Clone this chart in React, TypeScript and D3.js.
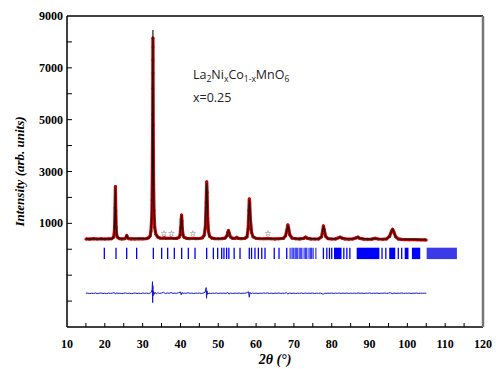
import React from 'react';
import * as d3 from 'd3';

const observed: [number, number][] = [
  [15.0, 400], [16.0, 392], [17.0, 408], [18.0, 396], [19.0, 404], [20.0, 395], [21.0, 402],
  [21.8, 405], [22.3, 460], [22.5, 620], [22.6, 900], [22.7, 1600], [22.8, 2420], [22.9, 1500],
  [23.0, 850], [23.1, 600], [23.3, 470], [23.8, 410], [24.5, 398], [25.3, 405], [25.6, 450],
  [25.8, 530], [26.0, 450], [26.3, 405], [27.0, 400], [28.0, 396], [29.0, 406], [30.0, 402],
  [31.0, 410], [31.6, 440], [32.0, 520], [32.2, 700], [32.4, 1200], [32.5, 1900], [32.6, 3600],
  [32.63, 4300], [32.66, 5200], [32.68, 6200], [32.7, 7300], [32.72, 8150], [32.74, 7800],
  [32.76, 6800], [32.8, 4800], [32.85, 3400], [32.9, 2500], [33.0, 1500], [33.2, 840],
  [33.5, 580], [34.0, 470], [34.6, 430], [35.2, 425], [35.7, 440], [36.2, 420], [37.0, 425],
  [37.5, 435], [38.2, 415], [39.0, 420], [39.6, 450], [39.9, 560], [40.1, 850], [40.2, 1150],
  [40.3, 1320], [40.4, 1100], [40.5, 780], [40.7, 530], [41.0, 450], [41.7, 420], [42.5, 410],
  [43.3, 425], [44.0, 410], [45.0, 415], [45.8, 440], [46.3, 550], [46.6, 900], [46.8, 1800],
  [46.95, 2600], [47.05, 2200], [47.2, 1200], [47.4, 700], [47.7, 500], [48.3, 430], [49.0, 410],
  [50.0, 405], [51.0, 410], [51.8, 430], [52.3, 520], [52.5, 650], [52.7, 720], [52.9, 620],
  [53.2, 480], [53.8, 420], [54.5, 420], [54.9, 460], [55.3, 415], [56.0, 410], [57.0, 420],
  [57.6, 480], [57.9, 800], [58.1, 1500], [58.2, 1940], [58.3, 1800], [58.5, 1150], [58.8, 650],
  [59.2, 480], [60.0, 420], [61.0, 410], [62.0, 405], [63.1, 420], [64.0, 405], [65.0, 400],
  [66.0, 405], [67.2, 420], [67.8, 520], [68.2, 780], [68.4, 940], [68.6, 820], [68.9, 560],
  [69.5, 430], [70.5, 405], [71.5, 400], [72.6, 420], [73.1, 470], [73.6, 420], [74.5, 400],
  [75.5, 395], [76.5, 400], [77.3, 480], [77.6, 700], [77.8, 900], [78.0, 760], [78.4, 500],
  [79.0, 410], [80.0, 395], [81.0, 400], [81.8, 440], [82.2, 470], [82.7, 430], [83.5, 395],
  [84.5, 390], [85.5, 395], [86.5, 440], [86.9, 470], [87.4, 420], [88.5, 390], [89.5, 385],
  [90.5, 390], [91.5, 420], [92.3, 395], [93.5, 385], [94.5, 400], [95.3, 500], [95.8, 700],
  [96.1, 770], [96.4, 680], [96.9, 480], [97.6, 400], [98.5, 380], [99.5, 375], [100.5, 370],
  [101.5, 372], [102.5, 368], [103.5, 365], [104.5, 362], [105.0, 360],
];

// calculated profile
const calculated: [number, number][] = [
  [15.0, 400], [21.8, 402], [22.3, 455], [22.5, 610], [22.6, 880], [22.7, 1580], [22.8, 2380],
  [22.9, 1480], [23.0, 840], [23.1, 600], [23.3, 465], [24.5, 400], [25.5, 430], [25.8, 520],
  [26.1, 430], [31.0, 410], [31.6, 440], [32.0, 520], [32.2, 700], [32.4, 1220], [32.5, 1950],
  [32.6, 3700], [32.66, 5800], [32.72, 8460], [32.78, 6000], [32.85, 3300], [33.0, 1480],
  [33.2, 830], [33.5, 575], [34.0, 465], [35.0, 425], [39.0, 420], [39.6, 448], [39.9, 555],
  [40.1, 840], [40.2, 1140], [40.3, 1300], [40.4, 1090], [40.5, 770], [40.7, 525], [41.0, 450],
  [42.0, 415], [45.0, 415], [45.8, 440], [46.3, 545], [46.6, 920], [46.8, 1850], [46.95, 2560],
  [47.05, 2150], [47.2, 1180], [47.4, 690], [47.7, 495], [48.3, 430], [50.0, 408], [51.8, 430],
  [52.3, 515], [52.5, 640], [52.7, 710], [52.9, 615], [53.2, 478], [53.8, 422], [54.9, 455],
  [55.4, 415], [57.0, 420], [57.6, 478], [57.9, 790], [58.1, 1480], [58.2, 1900], [58.3, 1780],
  [58.5, 1140], [58.8, 645], [59.2, 478], [60.0, 420], [66.0, 405], [67.2, 420], [67.8, 515],
  [68.2, 770], [68.4, 930], [68.6, 815], [68.9, 555], [69.5, 430], [71.5, 402], [72.6, 418],
  [73.1, 465], [73.6, 418], [76.5, 400], [77.3, 478], [77.6, 690], [77.8, 890], [78.0, 755],
  [78.4, 498], [79.0, 410], [81.0, 400], [81.8, 438], [82.2, 465], [82.7, 428], [85.5, 395],
  [86.5, 438], [86.9, 465], [87.4, 418], [90.5, 390], [91.5, 418], [92.3, 395], [94.5, 398],
  [95.3, 495], [95.8, 690], [96.1, 765], [96.4, 675], [96.9, 478], [97.6, 398], [105.0, 360],
];

// difference curve (obs - calc, offset)
const difference: [number, number][] = [
  [15.0, -1700], [15.5, -1690], [16.0, -1712], [16.5, -1695], [17.0, -1705], [17.5, -1688],
  [18.0, -1710], [18.5, -1698], [19.0, -1685], [19.5, -1708], [20.0, -1696], [20.5, -1712],
  [21.0, -1690], [21.5, -1703], [22.0, -1695], [22.5, -1670], [22.8, -1735], [23.1, -1680],
  [23.5, -1705], [24.0, -1692], [24.5, -1710], [25.0, -1698], [25.5, -1686], [26.0, -1707],
  [26.5, -1694], [27.0, -1712], [27.5, -1699], [28.0, -1688], [28.5, -1706], [29.0, -1695],
  [29.5, -1710], [30.0, -1692], [30.5, -1703], [31.0, -1690], [31.5, -1708], [32.0, -1690],
  [32.3, -1660], [32.5, -1560], [32.6, -1250], [32.65, -2060], [32.7, -1400], [32.75, -1800],
  [32.85, -1620], [33.0, -1740], [33.3, -1660], [33.6, -1720], [34.0, -1680], [34.5, -1705],
  [35.0, -1690], [35.5, -1660], [36.0, -1712], [36.5, -1685], [37.0, -1700], [37.5, -1670],
  [38.0, -1705], [38.5, -1690], [39.0, -1700], [39.5, -1680], [40.0, -1650], [40.2, -1760],
  [40.4, -1670], [40.7, -1710], [41.0, -1690], [41.5, -1702], [42.0, -1680], [42.5, -1700],
  [43.0, -1690], [43.5, -1708], [44.0, -1692], [44.5, -1700], [45.0, -1688], [45.5, -1706],
  [46.0, -1690], [46.5, -1660], [46.8, -1480], [46.9, -1890], [47.0, -1600], [47.2, -1740],
  [47.5, -1690], [48.0, -1710], [48.5, -1694], [49.0, -1702], [49.5, -1688], [50.0, -1706],
  [50.5, -1692], [51.0, -1700], [51.5, -1690], [52.0, -1706], [52.5, -1670], [52.8, -1730],
  [53.2, -1690], [53.8, -1705], [54.5, -1692], [55.0, -1702], [55.5, -1690], [56.0, -1706],
  [56.5, -1694], [57.0, -1700], [57.5, -1680], [58.0, -1640], [58.2, -1850], [58.4, -1660],
  [58.7, -1720], [59.0, -1690], [59.5, -1704], [60.0, -1692], [60.5, -1708], [61.0, -1694],
  [61.5, -1702], [62.0, -1688], [62.5, -1700], [63.0, -1684], [63.5, -1706], [64.0, -1694],
  [64.5, -1708], [65.0, -1692], [65.5, -1700], [66.0, -1688], [66.5, -1706], [67.0, -1694],
  [67.5, -1700], [68.0, -1675], [68.4, -1725], [68.8, -1690], [69.5, -1704], [70.0, -1692],
  [70.5, -1706], [71.0, -1694], [71.5, -1702], [72.0, -1690], [72.5, -1708], [73.0, -1688],
  [73.5, -1704], [74.0, -1694], [74.5, -1700], [75.0, -1690], [75.5, -1706], [76.0, -1694],
  [76.5, -1702], [77.0, -1690], [77.5, -1720], [77.8, -1740], [78.1, -1690], [78.5, -1705],
  [79.0, -1692], [79.5, -1700], [80.0, -1690], [80.5, -1704], [81.0, -1694], [81.5, -1702],
  [82.0, -1688], [82.5, -1706], [83.0, -1694], [83.5, -1700], [84.0, -1690], [84.5, -1706],
  [85.0, -1694], [85.5, -1702], [86.0, -1690], [86.5, -1704], [87.0, -1688], [87.5, -1700],
  [88.0, -1692], [88.5, -1706], [89.0, -1694], [89.5, -1700], [90.0, -1688], [90.5, -1704],
  [91.0, -1694], [91.5, -1700], [92.0, -1690], [92.5, -1706], [93.0, -1694], [93.5, -1700],
  [94.0, -1688], [94.5, -1704], [95.0, -1692], [95.5, -1680], [96.0, -1712], [96.5, -1690],
  [97.0, -1704], [97.5, -1694], [98.0, -1700], [98.5, -1688], [99.0, -1704], [99.5, -1694],
  [100.0, -1700], [100.5, -1690], [101.0, -1706], [101.5, -1694], [102.0, -1700], [102.5, -1690],
  [103.0, -1704], [103.5, -1694], [104.0, -1700], [104.5, -1692], [105.0, -1698],
];

// Bragg reflection positions
const braggTicks = [
  19.87, 22.96, 25.78, 28.42, 32.83, 35.03, 36.62, 38.38, 40.32, 42.08, 43.85, 46.93, 48.7,
  49.84, 50.9, 51.5, 52.2, 52.8, 54.2, 55.75, 58.2, 58.8, 59.7, 60.6, 61.5, 62.36, 64.8, 66.06,
  68.1, 69.0, 69.5, 69.84, 70.3, 70.6, 70.9, 71.4, 71.8, 72.1, 72.7, 73.1, 73.4, 74.0, 74.4,
  74.7, 75.1, 75.8, 77.8, 78.7, 79.4, 80.0, 83.2, 84.0, 84.8, 93.3, 94.3, 97.6, 98.5,
];
// spans where reflections overlap into a solid block
const braggBands: [number, number][] = [
  [80.6, 82.6], [86.6, 92.6], [95.2, 96.8], [99.3, 100.3], [101.2, 103.4], [105.1, 113.1],
];

const markedPeaks = [35.6, 37.6, 43.3, 63.1];

const xTicksLabeled = [10, 20, 30, 40, 50, 60, 70, 80, 90, 100, 110, 120];
const xTicksMinor = [15, 20, 25, 30, 35, 40, 45, 50, 55, 60, 65, 70, 75, 80, 85, 90, 95, 100, 105, 110, 115];
const yTicksLabeled = [9000, 7000, 5000, 3000, 1000];
const yTicksMinor = [8000, 7000, 6000, 5000, 4000, 3000, 2000, 1000, 0, -1000, -2000];

const W = 496;
const H = 369;
const left = 67;
const top = 16;
const right = 483;
const bottom = 327;

const App: React.FC = () => {
  const x = d3.scaleLinear().domain([10, 120]).range([left, right]);
  const y = d3.scaleLinear().domain([-3000, 9000]).range([bottom, top]);

  const line = d3.line<[number, number]>().x(d => x(d[0])).y(d => y(d[1]));

  const serif = '"Liberation Serif", "Times New Roman", serif';

  return (
    <svg width={W} height={H} style={{ position: 'absolute', left: 0, top: 0, background: '#fff' }}>
      {/* observed */}
      <path d={line(observed) ?? ''} fill="none" stroke="#d30000" strokeWidth={3.2} strokeLinejoin="round" />
      {observed.map((d, i) => (
        <circle key={i} cx={x(d[0])} cy={y(d[1])} r={1.5} fill="#c40000" />
      ))}
      {/* calculated */}
      <path d={line(calculated) ?? ''} fill="none" stroke="#111" strokeWidth={1.1} />

      {/* bragg positions */}
      {braggTicks.map((t, i) => (
        <line key={i} x1={x(t)} x2={x(t)} y1={y(60)} y2={y(-380)} stroke="#0000ff" strokeWidth={1.3}
          opacity={t > 68.5 && t < 76 ? 0.75 : 1} />
      ))}
      {braggBands.map((b, i) => (
        <rect key={i} x={x(b[0])} width={x(b[1]) - x(b[0])} y={y(60)} height={y(-380) - y(60)}
          fill={b[0] > 104 ? '#3a3ae6' : '#0000ff'} />
      ))}

      {/* difference */}
      <path d={line(difference) ?? ''} fill="none" stroke="#1515c8" strokeWidth={1} />

      {/* impurity marks */}
      {markedPeaks.map((p, i) => (
        <text key={i} x={x(p)} y={y(500)} textAnchor="middle" fontSize={8} fill="#000"
          fontFamily='"DejaVu Sans", sans-serif'>☆</text>
      ))}

      {/* frame */}
      <line x1={left} x2={right} y1={top} y2={top} stroke="#000" strokeWidth={1.5} />
      <line x1={left} x2={left} y1={top} y2={bottom} stroke="#000" strokeWidth={1.5} />
      <line x1={left} x2={right} y1={bottom} y2={bottom} stroke="#000" strokeWidth={1.5} />
      <line x1={right} x2={right} y1={top} y2={bottom} stroke="#777" strokeWidth={2.5} />

      {xTicksMinor.map(t => (
        <line key={t} x1={x(t)} x2={x(t)} y1={bottom} y2={bottom - 4} stroke="#000" strokeWidth={1} />
      ))}
      {yTicksMinor.map(t => (
        <line key={t} x1={left} x2={left + 5} y1={y(t)} y2={y(t)} stroke="#000" strokeWidth={1} />
      ))}

      {xTicksLabeled.map(t => (
        <text key={t} x={x(t)} y={348} textAnchor="middle" fontFamily={serif} fontWeight="bold" fontSize={12}>{t}</text>
      ))}
      {yTicksLabeled.map(t => (
        <text key={t} x={63} y={y(t) + 4} textAnchor="end" fontFamily={serif} fontWeight="bold" fontSize={12}>{t}</text>
      ))}

      <text x={275} y={364} textAnchor="middle" fontFamily={serif} fontWeight="bold" fontStyle="italic" fontSize={14}>
        2θ (°)
      </text>
      <text transform={`translate(24,${(top + bottom) / 2}) rotate(-90)`} textAnchor="middle" fontFamily={serif}
        fontWeight="bold" fontStyle="italic" fontSize={13}>
        Intensity (arb. units)
      </text>

      {/* sample label */}
      <text x={193} y={79} fontFamily='"Open Sans", sans-serif' fontSize={12.5} fill="#222">
        La<tspan fontSize={8.5} dy={3}>2</tspan>
        <tspan dy={-3}>Ni</tspan><tspan fontSize={8.5} dy={3}>x</tspan>
        <tspan dy={-3}>Co</tspan><tspan fontSize={8.5} dy={3}>1-x</tspan>
        <tspan dy={-3}>MnO</tspan><tspan fontSize={8.5} dy={3}>6</tspan>
      </text>
      <text x={193} y={102} fontFamily='"Open Sans", sans-serif' fontSize={12.5} fill="#222">x=0.25</text>
    </svg>
  );
};

export default App;
